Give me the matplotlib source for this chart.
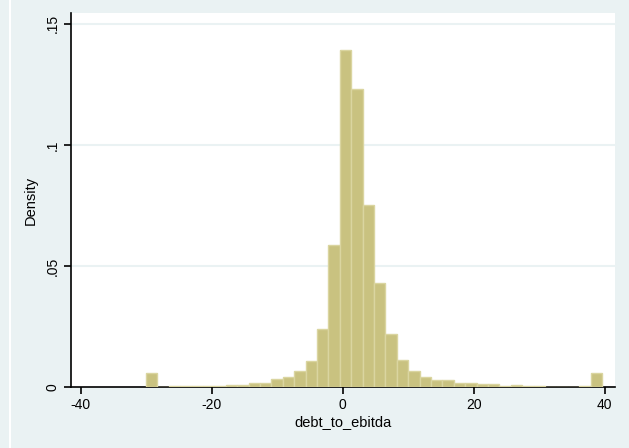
import numpy as np
import matplotlib
matplotlib.use("Agg")
import matplotlib.pyplot as plt

# Histogram of debt_to_ebitda (density), 40 bins from min to max
x_min, x_max = -30.0, 39.57
n_bins = 40
density = [
    0.0057, 0.0, 0.0004, 0.0004, 0.0004, 0.0004, 0.0004, 0.0008, 0.0008, 0.0015,
    0.0015, 0.0031, 0.0040, 0.0065, 0.0106, 0.0241, 0.0588, 0.1394, 0.1229, 0.0753,
    0.0431, 0.0218, 0.0110, 0.0065, 0.0043, 0.0027, 0.0027, 0.0015, 0.0015, 0.0011,
    0.0011, 0.0004, 0.0008, 0.0004, 0.0004, 0.0002, 0.0002, 0.0002, 0.0004, 0.0056,
]
x_ticks = [-40, -20, 0, 20, 40]
x_ticklabels = ["-40", "-20", "0", "20", "40"]
y_ticks = [0, 0.05, 0.1, 0.15]
y_ticklabels = ["0", ".05", ".1", ".15"]

plt.rcParams['font.family'] = ['Liberation Sans', 'DejaVu Sans']

bg = "#EAF2F3"
fig = plt.figure(figsize=(6.29, 4.48), dpi=100, facecolor=bg)
ax = fig.add_axes([71/629, 1 - 387/448, (615 - 71)/629, (387 - 13)/448])
ax.set_facecolor("white")

edges = np.linspace(x_min, x_max, n_bins + 1)
widths = np.diff(edges)
ax.bar(edges[:-1], density, width=widths, align="edge",
       color="#C9C280", edgecolor="#DAD5A0", linewidth=1.0, zorder=3)

ax.set_xlim(-41.45, 41.55)
ax.set_ylim(0, 0.1545)

for y in y_ticks[1:]:
    ax.axhline(y, color=bg, linewidth=1.5, zorder=1)

ax.set_xticks(x_ticks)
ax.set_xticklabels(x_ticklabels)
ax.set_yticks(y_ticks)
ax.set_yticklabels(y_ticklabels, rotation=90, va="center")

ax.tick_params(axis="both", direction="out", length=5, width=1.2, color="black",
               labelsize=10, pad=3)
for s in ["top", "right"]:
    ax.spines[s].set_visible(False)
ax.spines["left"].set_linewidth(1.2)
ax.spines["bottom"].set_linewidth(1.2)

ax.set_xlabel("debt_to_ebitda", fontsize=10.5, labelpad=2)
ax.set_ylabel("Density", fontsize=10.5, labelpad=6)

# thin white line near the left image edge
fig.add_artist(plt.Line2D([9.5/629, 9.5/629], [0, 1], color="white", linewidth=1.5,
                          transform=fig.transFigure))

fig.savefig("out.png", dpi=100, facecolor=bg)
